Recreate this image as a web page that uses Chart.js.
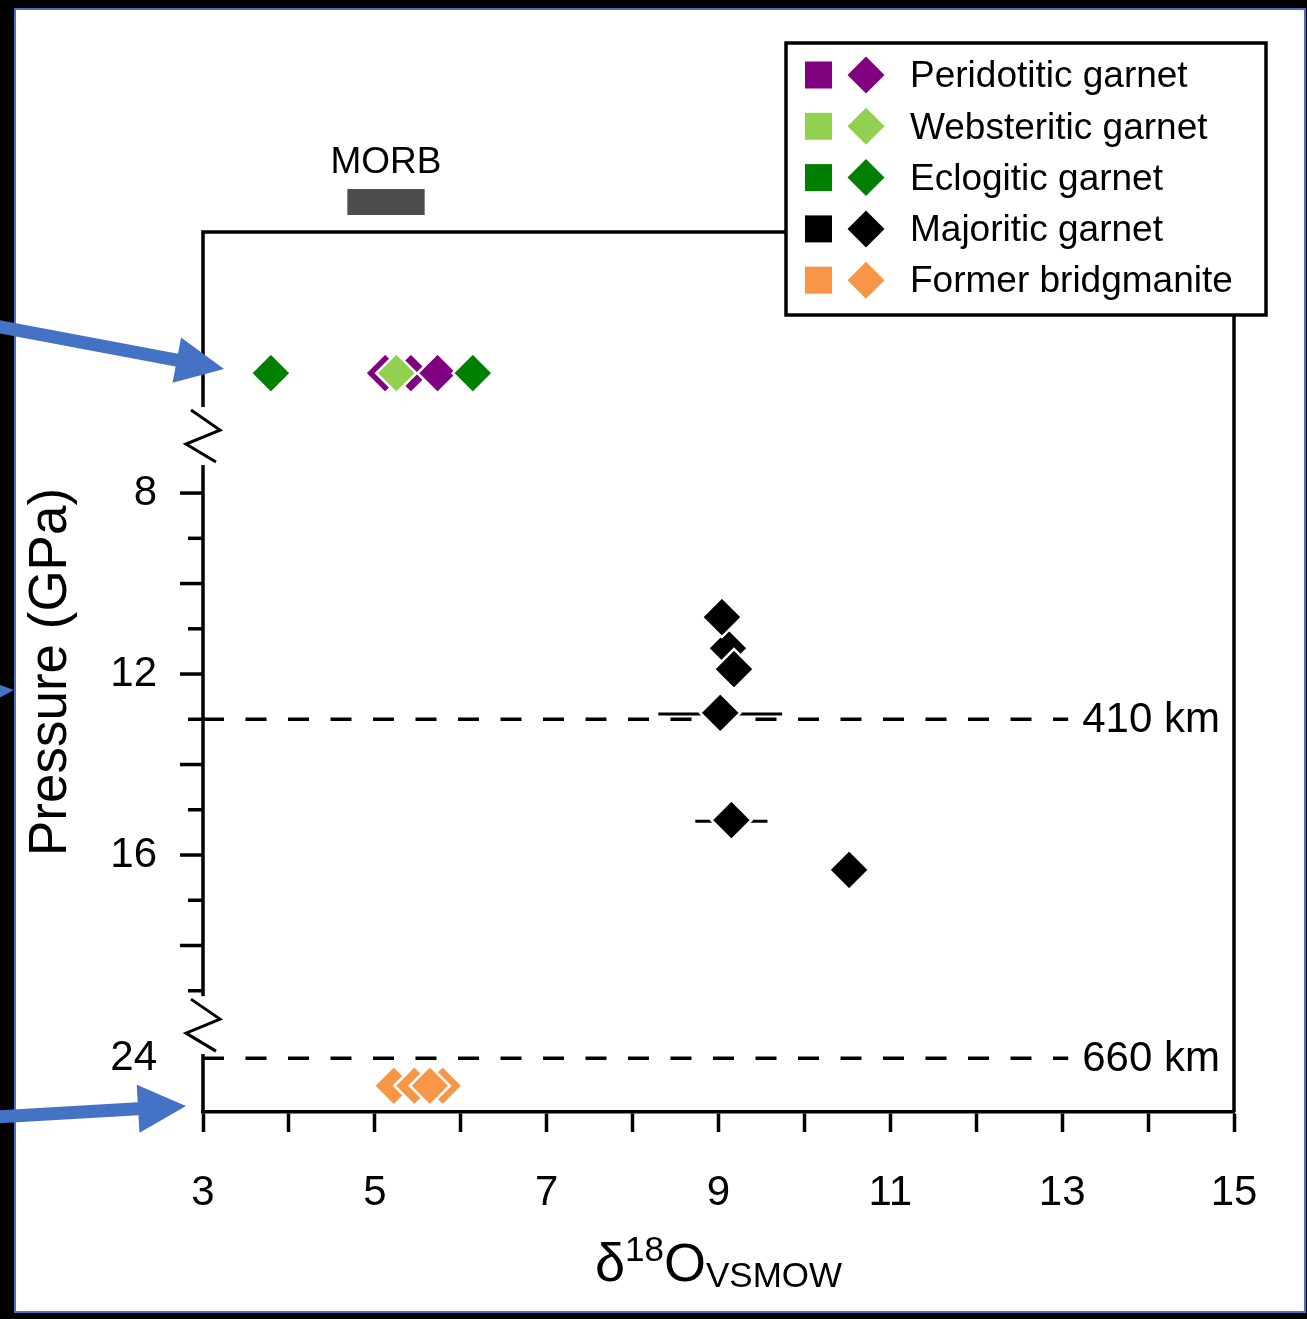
<!DOCTYPE html>
<html lang="en">
<head>
<meta charset="UTF-8">
<title>d18O vs pressure</title>
<style>
  body { margin: 0; background: #000; }
  canvas { display: block; }
</style>
</head>
<body>
<canvas id="myChart" width="1307" height="1319"></canvas>
<script src="https://cdn.jsdelivr.net/npm/chart.js"></script>
<script>
// d18O (VSMOW) of the inclusions
const peridotitic = [5.12, 5.42, 5.73];
const websteritic = [5.25];
const eclogitic = [3.79, 6.14];
const majoriticD18O = [9.11, 9.04, 9.18, 9.02, 9.15, 10.52];
const majoriticP = [11.43, 10.74, 11.89, 12.86, 15.23, 16.33];
const majoriticErr = [0, 0, 0, 0.72, 0.42, 0];
const bridgmanite = [5.22, 5.46, 5.79, 5.64];

const morbRange = [4.68, 5.58];

// broken pressure axis: a row above the break for garnets without pressure,
// 8-19 GPa to scale, then 24 GPa and the lower mantle row below the second break
const noPressureRow = 5.35;
const p24Pos = 20.49;
const lowerMantleRow = 21.1;
const yTicks = [8, 9, 10, 11, 12, 13, 14, 15, 16, 17, 18, 19];
const yLabels = [8, 12, 16];
const breaks = [6.74, 19.76];
const xTicks = [3, 5, 7, 9, 11, 13, 15];

const discontinuities = [['410 km', 13], ['660 km', p24Pos]];
const dashEnd = 13.07;

const legendItems = [
    ['Peridotitic garnet', '#800080'],
    ['Websteritic garnet', '#92D050'],
    ['Eclogitic garnet', '#008000'],
    ['Majoritic garnet', '#000000'],
    ['Former bridgmanite', '#F79646'],
];

const FONT = "'Liberation Sans', Arial, sans-serif";
Chart.defaults.font.family = FONT;
Chart.defaults.color = '#000';

function pts(xs, ys) {
    return xs.map((x, i) => ({ x: x, y: Array.isArray(ys) ? ys[i] : ys }));
}

function markers(label, color, data, order) {
    return {
        type: 'scatter',
        label: label,
        data: data,
        pointStyle: 'rectRot',
        pointRadius: 20,
        pointHoverRadius: 20,
        backgroundColor: color,
        borderColor: '#fff',
        borderWidth: 2.5,
        order: order,
    };
}

let datasets = [
    markers('Peridotitic garnet', '#800080', pts(peridotitic, noPressureRow), 5),
    markers('Websteritic garnet', '#92D050', pts(websteritic, noPressureRow), 4),
    markers('Eclogitic garnet', '#008000', pts(eclogitic, noPressureRow), 3),
    markers('Majoritic garnet', '#000000', pts(majoriticD18O, majoriticP), 2),
    markers('Former bridgmanite', '#F79646', pts(bridgmanite, lowerMantleRow), 1),
];
discontinuities.forEach(([name, p]) => {
    datasets.push({
        type: 'line',
        label: name,
        data: [{ x: 3, y: p }, { x: dashEnd, y: p }],
        borderColor: '#000',
        borderWidth: 3.5,
        borderDash: [21, 21.5],
        pointRadius: 0,
        order: 10,
    });
});

function diamond(c, x, y, r) {
    c.beginPath();
    c.moveTo(x - r, y); c.lineTo(x, y - r); c.lineTo(x + r, y); c.lineTo(x, y + r);
    c.closePath();
    c.fill();
}

function arrow(c, x0, y0, x1, y1, shaft, headW, headL) {
    const a = Math.atan2(y1 - y0, x1 - x0), len = Math.hypot(x1 - x0, y1 - y0);
    c.save();
    c.translate(x0, y0); c.rotate(a);
    c.beginPath();
    c.moveTo(0, -shaft / 2); c.lineTo(len - headL, -shaft / 2);
    c.lineTo(len - headL, -headW / 2); c.lineTo(len, 0);
    c.lineTo(len - headL, headW / 2); c.lineTo(len - headL, shaft / 2);
    c.lineTo(0, shaft / 2);
    c.closePath();
    c.fill();
    c.restore();
}

const frame = {
    id: 'frame',
    beforeDraw(chart) {
        const c = chart.ctx;
        c.save();
        c.fillStyle = '#000';
        c.fillRect(0, 0, chart.width, chart.height);
        c.fillStyle = '#fff';
        c.fillRect(15, 9, 1290, 1303);
        c.strokeStyle = '#4472C4';
        c.lineWidth = 2;
        c.strokeRect(15, 9, 1290, 1303);
        c.restore();
    }
};

const axisBits = {
    id: 'axisBits',
    beforeDatasetsDraw(chart) {
        const c = chart.ctx, a = chart.chartArea;
        const xs = chart.scales.x, ys = chart.scales.y;
        c.save();
        c.strokeStyle = '#000';
        c.lineWidth = 3.5;
        c.beginPath();
        c.moveTo(a.left, a.bottom); c.lineTo(a.left, a.top);
        c.lineTo(a.right, a.top); c.lineTo(a.right, a.bottom);
        c.stroke();
        yTicks.forEach(v => {
            const y = ys.getPixelForValue(v), len = v % 2 ? 15 : 23;
            c.beginPath(); c.moveTo(a.left - len, y); c.lineTo(a.left, y); c.stroke();
        });
        c.lineWidth = 3;
        breaks.forEach(v => {
            const y = ys.getPixelForValue(v);
            c.fillStyle = '#fff';
            c.fillRect(a.left - 25, y - 29, 54, 58);
            c.beginPath();
            c.moveTo(a.left - 12, y - 26); c.lineTo(a.left + 17, y - 6);
            c.lineTo(a.left - 17, y + 8); c.lineTo(a.left + 13, y + 26);
            c.stroke();
        });
        // x error bars on majoritic garnets
        majoriticErr.forEach((e, i) => {
            if (!e) return;
            const y = ys.getPixelForValue(majoriticP[i]) + 1;
            c.beginPath();
            c.moveTo(xs.getPixelForValue(majoriticD18O[i] - e), y);
            c.lineTo(xs.getPixelForValue(majoriticD18O[i] + e), y);
            c.stroke();
        });
        c.restore();
    }
};

const annotations = {
    id: 'annotations',
    afterDraw(chart) {
        const c = chart.ctx, a = chart.chartArea;
        const xs = chart.scales.x, ys = chart.scales.y;
        c.save();
        c.fillStyle = '#000';
        c.textBaseline = 'middle';

        // discontinuity labels
        c.font = '42px ' + FONT;
        c.textAlign = 'left';
        discontinuities.forEach(([name, p]) => {
            c.fillText(name, xs.getPixelForValue(dashEnd) + 14, ys.getPixelForValue(p) + 1);
        });

        // MORB bar
        const m0 = xs.getPixelForValue(morbRange[0]), m1 = xs.getPixelForValue(morbRange[1]);
        c.fillStyle = '#4d4d4d';
        c.fillRect(m0, a.top - 43, m1 - m0, 26);
        c.fillStyle = '#000';
        c.font = '37px ' + FONT;
        c.textAlign = 'center';
        c.fillText('MORB', (m0 + m1) / 2, a.top - 69);

        // y title
        c.save();
        c.translate(51, (a.top + a.bottom) / 2);
        c.rotate(-Math.PI / 2);
        c.font = '53px ' + FONT;
        c.fillText('Pressure (GPa)', 0, 0);
        c.restore();

        // x title  δ18O VSMOW
        c.textAlign = 'left';
        c.textBaseline = 'alphabetic';
        const parts = [['δ', 54, 0], ['18', 35, -20], ['O', 54, 0], ['VSMOW', 35, 6]];
        let total = 0;
        parts.forEach(p => { c.font = p[1] + 'px ' + FONT; total += c.measureText(p[0]).width; });
        let x = (a.left + a.right) / 2 - total / 2;
        parts.forEach(p => {
            c.font = p[1] + 'px ' + FONT;
            c.fillText(p[0], x, 1281 + p[2]);
            x += c.measureText(p[0]).width;
        });

        // legend
        const lx = 786, ly = 43, lw = 480, lh = 272;
        c.fillStyle = '#fff';
        c.fillRect(lx, ly, lw, lh);
        c.strokeStyle = '#000';
        c.lineWidth = 3.5;
        c.strokeRect(lx, ly, lw, lh);
        c.font = '37px ' + FONT;
        c.textBaseline = 'middle';
        legendItems.forEach(([name, color], i) => {
            const y = 75 + i * 51.3;
            c.fillStyle = color;
            c.fillRect(805, y - 13.5, 27, 27);
            diamond(c, 866, y, 18.5);
            c.fillStyle = '#000';
            c.fillText(name, 910, y + 2);
        });

        // blue pointer arrows
        c.fillStyle = '#4472C4';
        arrow(c, -5, 326, 224, 369, 13, 46, 48);
        arrow(c, -80, 697, 14, 690, 12, 40, 45);
        arrow(c, -5, 1117, 186, 1106, 13, 48, 48);
        c.restore();
    }
};

const ctx = document.getElementById('myChart');

new Chart(ctx, {
    data: { datasets: datasets },
    options: {
        responsive: false,
        animation: false,
        events: [],
        layout: { padding: { left: 0, top: 232, right: 73, bottom: 0 } },
        plugins: {
            legend: { display: false },
            tooltip: { enabled: false },
            title: { display: false },
        },
        scales: {
            x: {
                type: 'linear',
                min: 3,
                max: 15,
                afterBuildTicks: s => { s.ticks = [3, 4, 5, 6, 7, 8, 9, 10, 11, 12, 13, 14, 15].map(v => ({ value: v })); },
                ticks: {
                    callback: v => xTicks.includes(v) ? String(v) : '',
                    autoSkip: false,
                    maxRotation: 0,
                    padding: 36,
                    font: { size: 42 },
                },
                grid: { drawOnChartArea: false, tickLength: 20, tickWidth: 3.5, tickColor: '#000' },
                border: { color: '#000', width: 3.5 },
                afterFit: s => { s.height = 207; },
            },
            y: {
                type: 'linear',
                reverse: true,
                min: 2.23,
                max: 21.68,
                afterBuildTicks: s => { s.ticks = yLabels.concat([p24Pos]).map(v => ({ value: v })); },
                ticks: {
                    callback: v => v === p24Pos ? '24' : String(v),
                    autoSkip: false,
                    padding: 46,
                    font: { size: 42 },
                },
                grid: { display: false, drawTicks: false },
                border: { display: false },
                afterFit: s => { s.width = 203; },
            },
        },
    },
    plugins: [frame, axisBits, annotations],
});
</script>
</body>
</html>
